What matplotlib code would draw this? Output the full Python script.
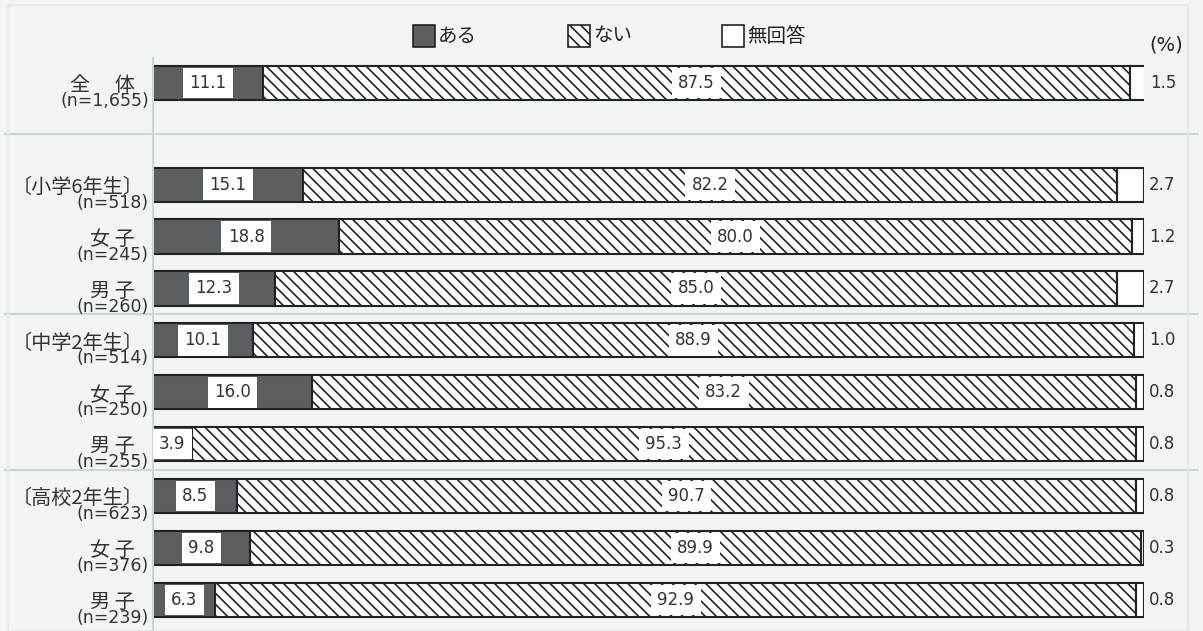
import matplotlib.pyplot as plt
from matplotlib.patches import Rectangle
import matplotlib.transforms as mtrans

plt.rcParams['font.family'] = ['Noto Sans CJK JP', 'DejaVu Sans']
plt.rcParams['hatch.linewidth'] = 1.2

# data
groups = ['全　 体', '〔小学6年生〕', '女 子', '男 子', '〔中学2年生〕', '女 子', '男 子',
          '〔高校2年生〕', '女 子', '男 子']
n_labels = ['(n=1,655)', '(n=518)', '(n=245)', '(n=260)', '(n=514)', '(n=250)',
            '(n=255)', '(n=623)', '(n=376)', '(n=239)']
aru = [11.1, 15.1, 18.8, 12.3, 10.1, 16.0, 3.9, 8.5, 9.8, 6.3]
nai = [87.5, 82.2, 80.0, 85.0, 88.9, 83.2, 95.3, 90.7, 89.9, 92.9]
muk = [1.5, 2.7, 1.2, 2.7, 1.0, 0.8, 0.8, 0.8, 0.3, 0.8]
legend_labels = ['ある', 'ない', '無回答']

BG = '#f1f5f6'
DARK = '#5b5f61'
GRID = '#cfd4d6'
NUMFONT = ['DejaVu Sans', 'Noto Sans CJK JP']
HATCH = '\\\\\\'

W, H = 1203, 631
fig = plt.figure(figsize=(W / 100, H / 100), dpi=100, facecolor=BG)

# axes: x 0..100 maps to pixel 153..1144, top at pixel 58
ax = fig.add_axes([153 / W, 0, (1144 - 153) / W, 1 - 58 / H])
ax.set_facecolor(BG)

ypos = [0] + [1.96 + i for i in range(9)]
ax.set_xlim(0, 100)
ax.set_ylim(10.56, -0.48)

h = 0.66
ax.barh(ypos, aru, height=h, color=DARK, edgecolor='#222222', linewidth=1.5)
ax.barh(ypos, nai, left=aru, height=h, color='white', edgecolor='#222222',
        linewidth=1.5, hatch=HATCH)
left2 = [a + b for a, b in zip(aru, nai)]
ax.barh(ypos, muk, left=left2, height=h, color='white', edgecolor='#222222', linewidth=1.5)

box = dict(boxstyle='square,pad=0.38', facecolor='white', edgecolor='none')
for y, a, b, c, l2 in zip(ypos, aru, nai, muk, left2):
    ax.text(a / 2, y, f'{a:.1f}', ha='center', va='center', fontsize=12,
            color='#333333', bbox=box, family=NUMFONT)
    ax.text(a + b / 2, y, f'{b:.1f}', ha='center', va='center', fontsize=12,
            color='#333333', bbox=box, family=NUMFONT)
    ax.text(l2 + c + 0.5, y, f'{c:.1f}', ha='left', va='center', fontsize=12,
            color='#333333', family=NUMFONT)

# row labels (bracketed ones sit further right, the closing bracket glyph is half blank)
lab_tr = mtrans.blended_transform_factory(fig.transFigure, ax.transData)
off = mtrans.ScaledTranslation(0, -2 / 72, fig.dpi_scale_trans)
off_n = mtrans.ScaledTranslation(0, -13 / 72, fig.dpi_scale_trans)
for y, g, n in zip(ypos, groups, n_labels):
    gx = 144 if g.startswith('〔') else 135
    ax.text(gx / W, y, g, ha='right', va='center', fontsize=14.5, color='#333333',
            transform=lab_tr + off)
    ax.text(149 / W, y, n, ha='right', va='center', fontsize=12.5, color='#333333',
            transform=lab_tr + off_n, family=NUMFONT)

# separators
for ys in [(ypos[0] + ypos[1]) / 2, (ypos[3] + ypos[4]) / 2, (ypos[6] + ypos[7]) / 2]:
    ax.plot([5 / W, 1198 / W], [ys, ys], color=GRID, lw=1.5, transform=lab_tr,
            clip_on=False)

for s in ['top', 'right', 'bottom']:
    ax.spines[s].set_visible(False)
ax.spines['left'].set_color(GRID)
ax.spines['left'].set_linewidth(1.5)
ax.set_xticks([])
ax.set_yticks([])

# outer frame
fig.patches.append(Rectangle((8 / W, 0), (1188 - 8) / W, 1 - 5 / H, transform=fig.transFigure,
                             fill=False, edgecolor='#e3e7e9', lw=1.2))

# legend
leg_x = [413, 568, 722]
styles = [dict(facecolor=DARK), dict(facecolor='white', hatch=HATCH),
          dict(facecolor='white')]
for x, lab, st in zip(leg_x, legend_labels, styles):
    fig.patches.append(Rectangle((x / W, 1 - 47 / H), 22 / W, 22 / H, transform=fig.transFigure,
                                 edgecolor='#222222', lw=1.2, **st))
    fig.text((x + 25) / W, 1 - 36 / H, lab, ha='left', va='center', fontsize=14,
             color='#222222')

fig.text(1183 / W, 1 - 45 / H, '(%)', ha='right', va='center', fontsize=14, color='#222222',
         family=NUMFONT)

fig.savefig('out.png', dpi=100, facecolor=BG)
